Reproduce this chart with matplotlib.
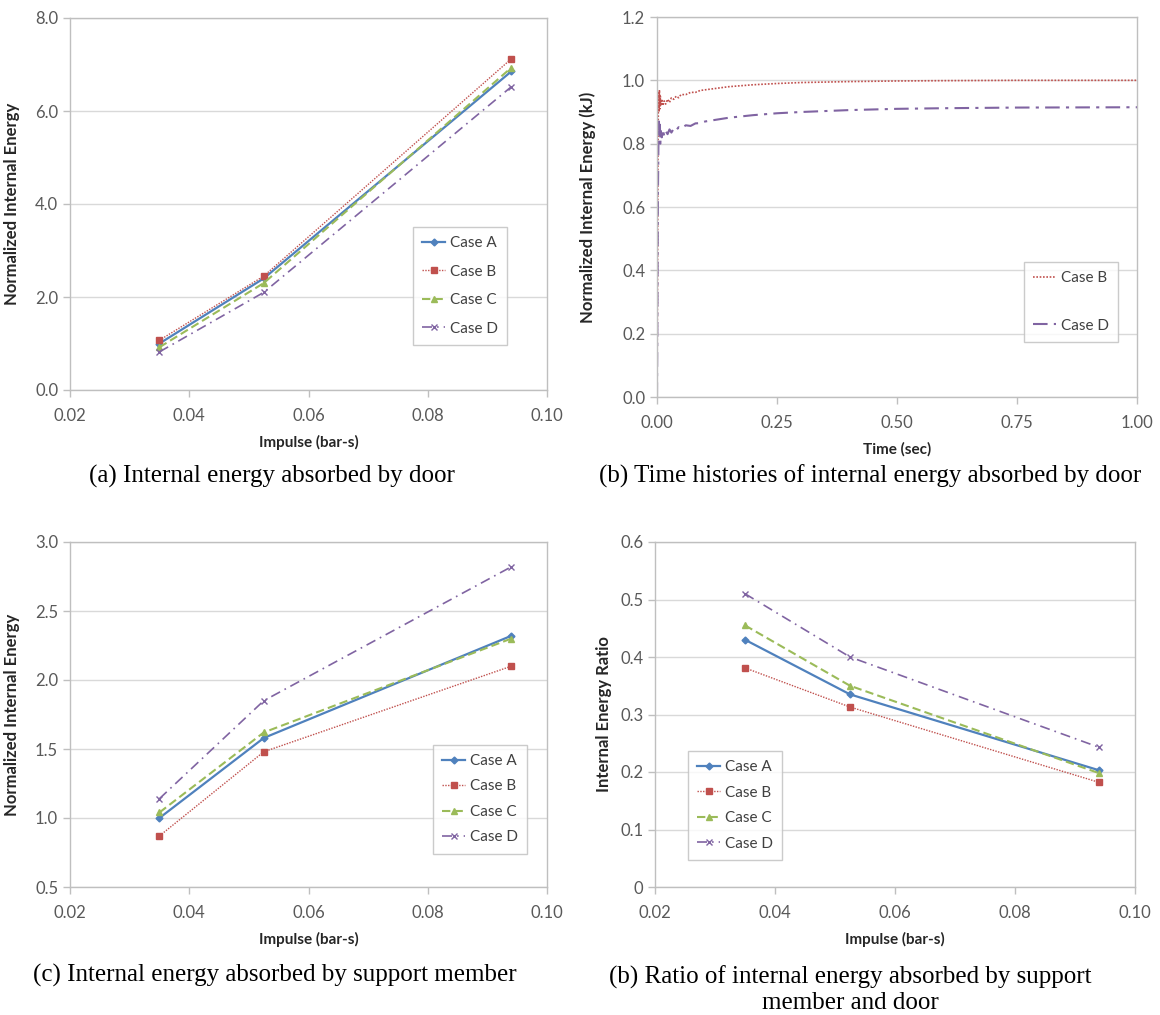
import numpy as np
import matplotlib
matplotlib.use('Agg')
import matplotlib.pyplot as plt

plt.rcParams['font.family'] = ['Lato', 'DejaVu Sans']

# impulse values (bar-s)
impulse = [0.035, 0.0525, 0.094]
cases = ['Case A', 'Case B', 'Case C', 'Case D']

# (a) normalized internal energy absorbed by door
door_energy = {
    'Case A': [1.00, 2.40, 6.85],
    'Case B': [1.07, 2.45, 7.12],
    'Case C': [0.92, 2.30, 6.93],
    'Case D': [0.82, 2.10, 6.52],
}

# (c) normalized internal energy absorbed by support member
support_energy = {
    'Case A': [1.00, 1.58, 2.32],
    'Case B': [0.87, 1.48, 2.10],
    'Case C': [1.04, 1.62, 2.30],
    'Case D': [1.14, 1.85, 2.82],
}

# (d) ratio support / door
energy_ratio = {
    'Case A': [0.430, 0.335, 0.203],
    'Case B': [0.381, 0.313, 0.182],
    'Case C': [0.455, 0.350, 0.198],
    'Case D': [0.510, 0.400, 0.243],
}

# (b) time histories (sec, normalized energy)
time_b = [0.000, 0.001, 0.002, 0.003, 0.004, 0.005, 0.006, 0.007, 0.008, 0.010,
          0.012, 0.015, 0.018, 0.022, 0.026, 0.030, 0.035, 0.040, 0.045, 0.050,
          0.060, 0.070, 0.080, 0.090, 0.100, 0.125, 0.150, 0.175, 0.200, 0.250,
          0.300, 0.400, 0.500, 0.600, 0.750, 1.000]
energy_b = [0.00, 0.35, 0.75, 0.96, 0.90, 0.97, 0.91, 0.95, 0.92, 0.94,
            0.92, 0.935, 0.925, 0.94, 0.93, 0.945, 0.94, 0.95, 0.945, 0.955,
            0.955, 0.962, 0.962, 0.968, 0.970, 0.975, 0.980, 0.983, 0.986, 0.990,
            0.993, 0.996, 0.998, 0.999, 1.000, 1.000]
time_d = time_b
energy_d = [0.00, 0.30, 0.65, 0.80, 0.87, 0.82, 0.86, 0.80, 0.84, 0.82,
            0.845, 0.825, 0.84, 0.83, 0.845, 0.835, 0.848, 0.842, 0.852, 0.848,
            0.858, 0.856, 0.864, 0.865, 0.870, 0.876, 0.882, 0.886, 0.890, 0.896,
            0.900, 0.906, 0.910, 0.912, 0.914, 0.915]

styles = {
    'Case A': dict(color='#4F81BD', lw=1.6, ls='-', marker='D', ms=3.5),
    'Case B': dict(color='#C0504D', lw=1.0, ls=(0, (1, 1)), marker='s', ms=5),
    'Case C': dict(color='#9BBB59', lw=1.5, ls=(0, (4, 2)), marker='^', ms=5),
    'Case D': dict(color='#8064A2', lw=1.2, ls=(0, (6, 3, 1, 3)), marker='x', ms=5),
}

grid_c = '#D9D9D9'
edge_c = '#BFBFBF'
tick_c = '#595959'

fig = plt.figure(figsize=(11.6, 10.15), dpi=100)
W, H = 1160, 1015

def make_ax(x0, y0, x1, y1):
    return fig.add_axes([x0 / W, 1 - y1 / H, (x1 - x0) / W, (y1 - y0) / H])

def style_ax(ax):
    for s in ax.spines.values():
        s.set_color(edge_c)
        s.set_linewidth(1.0)
    ax.yaxis.grid(True, color=grid_c, lw=1.0)
    ax.set_axisbelow(True)
    ax.tick_params(axis='both', colors=edge_c, labelcolor=tick_c, labelsize=12,
                   length=5, width=1.0, direction='out')
    ax.tick_params(axis='x', pad=8)

def legend(ax, anchor, loc, spacing):
    lg = ax.legend(loc=loc, bbox_to_anchor=anchor, fontsize=11, frameon=True,
                   fancybox=False, edgecolor=edge_c, handlelength=1.5,
                   handletextpad=0.3, labelspacing=spacing, borderpad=0.6,
                   borderaxespad=0)
    lg.get_frame().set_linewidth(1.0)
    for t in lg.get_texts():
        t.set_color('#404040')

xticks = [0.02, 0.04, 0.06, 0.08, 0.10]
xticklabels = ['0.02', '0.04', '0.06', '0.08', '0.10']
lab = dict(fontsize=11, fontweight='bold', color='#262626')
ylab = dict(fontsize=12, fontweight='bold', color='#262626')

# (a)
ax = make_ax(70, 18, 547, 390)
for c in cases:
    ax.plot(impulse, door_energy[c], label=c, **styles[c])
ax.set_xlim(0.02, 0.10)
ax.set_ylim(0, 8)
ax.set_xticks(xticks, xticklabels)
ax.set_yticks([0, 2, 4, 6, 8], ['0.0', '2.0', '4.0', '6.0', '8.0'])
style_ax(ax)
ax.set_xlabel('Impulse (bar-s)', labelpad=8, **lab)
ax.set_ylabel('Normalized Internal Energy', **ylab)
ax.yaxis.set_label_coords(-0.105, 0.5)
legend(ax, (0.719, 0.438), 'upper left', 0.95)

# (b)
ax = make_ax(657, 17, 1137, 397)
ax.plot(time_b, energy_b, color='#C0504D', lw=1.2, ls=(0, (1, 1)), label='Case B')
ax.plot(time_d, energy_d, color='#8064A2', lw=1.5, ls=(0, (7, 3, 1.5, 3)), label='Case D')
ax.set_xlim(0, 1)
ax.set_ylim(0, 1.2)
ax.set_xticks([0, 0.25, 0.5, 0.75, 1.0], ['0.00', '0.25', '0.50', '0.75', '1.00'])
ax.set_yticks(np.arange(0, 1.21, 0.2), ['0.0', '0.2', '0.4', '0.6', '0.8', '1.0', '1.2'])
style_ax(ax)
ax.set_xlabel('Time (sec)', labelpad=8, **lab)
ax.set_ylabel('Normalized Internal Energy (kJ)', **ylab)
ax.yaxis.set_label_coords(-0.127, 0.5)
legend(ax, (0.960, 0.145), 'lower right', 2.2)

# (c)
ax = make_ax(70, 542, 547, 887)
for c in cases:
    ax.plot(impulse, support_energy[c], label=c, **styles[c])
ax.set_xlim(0.02, 0.10)
ax.set_ylim(0.5, 3.0)
ax.set_xticks(xticks, xticklabels)
ax.set_yticks([0.5, 1.0, 1.5, 2.0, 2.5, 3.0], ['0.5', '1.0', '1.5', '2.0', '2.5', '3.0'])
style_ax(ax)
ax.set_xlabel('Impulse (bar-s)', labelpad=8, **lab)
ax.set_ylabel('Normalized Internal Energy', **ylab)
ax.yaxis.set_label_coords(-0.105, 0.5)
legend(ax, (0.761, 0.412), 'upper left', 0.75)

# (d)
ax = make_ax(655, 542, 1135, 887)
for c in cases:
    ax.plot(impulse, energy_ratio[c], label=c, **styles[c])
ax.set_xlim(0.02, 0.10)
ax.set_ylim(0, 0.6)
ax.set_xticks(xticks, xticklabels)
ax.set_yticks([0, 0.1, 0.2, 0.3, 0.4, 0.5, 0.6], ['0', '0.1', '0.2', '0.3', '0.4', '0.5', '0.6'])
style_ax(ax)
ax.set_xlabel('Impulse (bar-s)', labelpad=8, **lab)
ax.set_ylabel('Internal Energy Ratio', **ylab)
ax.yaxis.set_label_coords(-0.09, 0.5)
legend(ax, (0.069, 0.394), 'upper left', 0.75)

# captions
cap = dict(fontsize=18, family=['Liberation Serif', 'DejaVu Serif'], ha='center', va='center')
fig.text(272 / W, 1 - 476 / H, '(a) Internal energy absorbed by door', **cap)
fig.text(870 / W, 1 - 476 / H, '(b) Time histories of internal energy absorbed by door', **cap)
fig.text(275 / W, 1 - 975 / H, '(c) Internal energy absorbed by support member', **cap)
fig.text(850 / W, 1 - 990 / H, '(b) Ratio of internal energy absorbed by support\nmember and door',
         linespacing=1.15, **cap)

fig.savefig('out.png', dpi=100)
